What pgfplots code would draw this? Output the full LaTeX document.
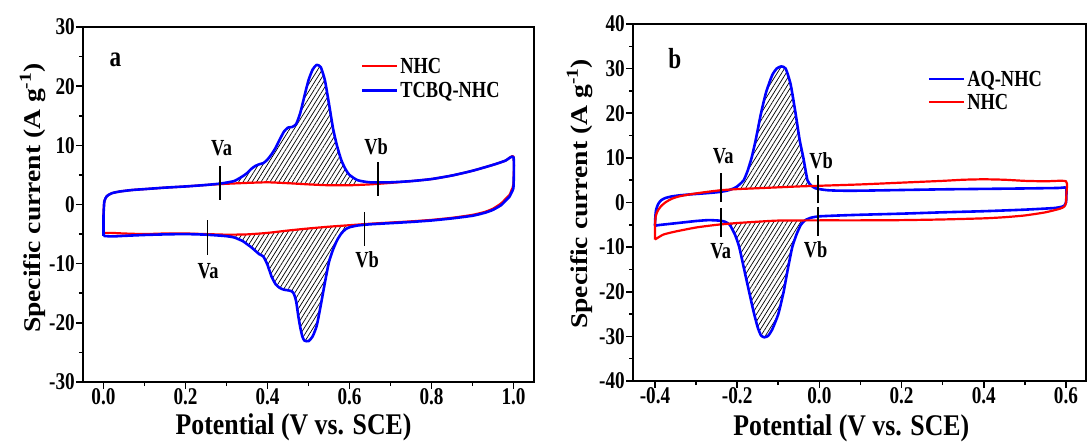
\documentclass[border=0pt]{standalone}
\usepackage{pgfplots}
\pgfplotsset{compat=1.18}
\usetikzlibrary{patterns.meta}
\usepackage{fontspec}
\setmainfont{Liberation Serif}
\newfontfamily\fA[FakeStretch=0.8]{Liberation Serif}
\newfontfamily\fB[FakeStretch=0.86]{Liberation Serif}
\newfontfamily\fV[FakeStretch=1.15]{Liberation Serif}
\newcommand\tickfont{\fA\bfseries\fontsize{24pt}{24pt}\selectfont}
\newcommand\legfont{\fA\bfseries\fontsize{23pt}{23pt}\selectfont}
\newcommand\vfont{\fA\bfseries\fontsize{23pt}{23pt}\selectfont}
\newcommand\panelfont{\fA\bfseries\fontsize{29pt}{29pt}\selectfont}
\newcommand\xlabfont{\fB\bfseries\fontsize{30pt}{30pt}\selectfont}
\newcommand\ylabfont{\fV\bfseries\fontsize{24pt}{24pt}\selectfont}

\pgfplotsset{cvaxis/.style={
  scale only axis, anchor=south west,
  axis line style={line width=1.6pt},
  tick style={black, line width=1.6pt},
  tick align=outside, xtick pos=bottom, ytick pos=left,
  major tick length=7pt, minor tick length=4pt,
  minor x tick num=1, minor y tick num=1,
  tick label style={font=\tickfont},
  xticklabel style={inner sep=0pt, yshift=1pt},
  yticklabel style={inner sep=1pt},
  legend style={draw=none, fill=none, font=\legfont, inner sep=0pt,
     nodes={inner sep=2pt, text depth=0pt}, anchor=north west},
  legend cell align=left,
  legend image code/.code={\draw[##1] (0pt,0pt) -- (35pt,0pt);},
  xlabel style={font=\xlabfont, anchor=base, inner sep=0pt},
  ylabel style={font=\ylabfont, anchor=base},
  hatch/.style={draw=none, forget plot, smooth, tension=0.35,
     pattern={Lines[angle=58,distance=3.8pt,line width=0.7pt]}, pattern color=black},
  vmark/.style={black, line width=1.5pt, forget plot},
  redline/.style={red, line width=2.2pt, smooth, tension=0.35, line join=round},
  blueline/.style={blue, line width=2.6pt, smooth, tension=0.35, line join=round},
}}

\begin{document}
\begin{tikzpicture}
\useasboundingbox (0,0) rectangle (1087pt,442pt);
% ---------------- panel a ----------------
\begin{axis}[cvaxis, at={(83pt,60pt)}, width=451pt, height=355pt,
  xmin=-0.05, xmax=1.05, ymin=-30, ymax=30,
  xtick={0,0.2,0.4,0.6,0.8,1}, xticklabels={0.0,0.2,0.4,0.6,0.8,1.0},
  ytick={-30,-20,-10,0,10,20,30}, yticklabels={-30,-20,-10,0,10,20,30},
  xlabel={Potential (V vs. SCE)},
  ylabel={Specific current (A g\textsuperscript{-1})},
  xlabel style={at={(axis description cs:0.467,-0.1465)}},
  ylabel style={at={(axis description cs:-0.0953,0.518)}},
  legend style={at={(axis description cs:0.6155,0.917)}, row sep=4.8pt}]
% hatched areas
\addplot[hatch] coordinates {(0.32,4.0) (0.34,4.8) (0.35,5.3) (0.36,6.0) (0.37,6.5) (0.38,6.8) (0.39,7.0) (0.40,7.6) (0.41,8.5) (0.42,9.6) (0.43,11.0) (0.44,12.3) (0.45,13.0) (0.46,13.1) (0.47,13.6) (0.48,15.5) (0.49,18.3) (0.50,21.0) (0.51,22.8) (0.52,23.6) (0.53,23.2) (0.54,21.0) (0.55,17.0) (0.56,12.8) (0.57,9.8) (0.58,7.5) (0.59,6.0) (0.60,5.0) (0.62,4.1) (0.62,3.25) (0.60,3.25) (0.55,3.25) (0.50,3.4) (0.45,3.6) (0.40,3.75) (0.35,3.65) (0.32,3.55)};
\addplot[hatch] coordinates {(0.60,-3.85) (0.59,-4.2) (0.58,-4.9) (0.57,-6.0) (0.56,-7.6) (0.55,-9.7) (0.54,-13.2) (0.53,-17.0) (0.52,-20.5) (0.51,-22.3) (0.50,-23.1) (0.49,-23.0) (0.485,-22.3) (0.48,-20.8) (0.475,-18.8) (0.47,-16.4) (0.465,-15.2) (0.46,-14.7) (0.45,-14.5) (0.44,-14.4) (0.43,-14.1) (0.42,-13.5) (0.41,-12.2) (0.40,-10.2) (0.39,-8.8) (0.38,-8.4) (0.37,-7.8) (0.36,-7.2) (0.35,-6.7) (0.34,-6.2) (0.32,-5.6) (0.32,-5.1) (0.35,-5.05) (0.40,-4.8) (0.45,-4.4) (0.50,-4.05) (0.55,-3.75) (0.60,-3.5)};
% NHC
\addplot[redline] coordinates {(0.0,-4.8) (0.0,-2.0) (0.002,0.5) (0.008,1.4) (0.02,1.9) (0.04,2.2) (0.07,2.45) (0.10,2.6) (0.15,2.85) (0.20,3.05) (0.25,3.3) (0.30,3.5) (0.35,3.65) (0.40,3.75) (0.45,3.6) (0.50,3.4) (0.55,3.25) (0.60,3.25) (0.65,3.4) (0.70,3.65) (0.75,3.95) (0.80,4.3) (0.85,4.9) (0.90,5.7) (0.95,6.7) (0.98,7.4) (1.0,8.1) (1.0,3.5) (0.995,2.4) (0.99,1.6) (0.98,0.9) (0.97,0.2) (0.95,-0.7) (0.93,-1.25) (0.90,-1.75) (0.85,-2.25) (0.80,-2.6) (0.75,-2.85) (0.70,-3.05) (0.65,-3.25) (0.60,-3.5) (0.55,-3.75) (0.50,-4.05) (0.45,-4.4) (0.40,-4.8) (0.35,-5.05) (0.30,-5.1) (0.25,-5.0) (0.20,-4.9) (0.15,-4.9) (0.10,-5.0) (0.05,-4.9) (0.02,-4.8) (0.0,-4.8)};
\addlegendentry{NHC}
% TCBQ-NHC
\addplot[blueline] coordinates {(0.0,-5.3) (0.0,-2.0) (0.002,0.5) (0.008,1.4) (0.02,1.9) (0.04,2.2) (0.07,2.45) (0.10,2.6) (0.15,2.85) (0.20,3.05) (0.25,3.3) (0.28,3.5) (0.30,3.7) (0.32,4.0) (0.34,4.8) (0.35,5.3) (0.36,6.0) (0.37,6.5) (0.38,6.8) (0.39,7.0) (0.40,7.6) (0.41,8.5) (0.42,9.6) (0.43,11.0) (0.44,12.3) (0.45,13.0) (0.46,13.1) (0.47,13.6) (0.48,15.5) (0.49,18.3) (0.50,21.0) (0.51,22.8) (0.52,23.6) (0.53,23.2) (0.54,21.0) (0.55,17.0) (0.56,12.8) (0.57,9.8) (0.58,7.5) (0.59,6.0) (0.60,5.0) (0.62,4.1) (0.65,3.75) (0.70,3.75) (0.75,3.95) (0.80,4.3) (0.85,4.9) (0.90,5.7) (0.95,6.7) (0.98,7.4) (1.0,8.0) (1.0,3.0) (0.995,2.0) (0.99,1.3) (0.98,0.6) (0.97,-0.1) (0.95,-0.9) (0.93,-1.4) (0.90,-1.9) (0.85,-2.35) (0.80,-2.7) (0.75,-2.95) (0.70,-3.15) (0.65,-3.35) (0.62,-3.55) (0.60,-3.85) (0.59,-4.2) (0.58,-4.9) (0.57,-6.0) (0.56,-7.6) (0.55,-9.7) (0.54,-13.2) (0.53,-17.0) (0.52,-20.5) (0.51,-22.3) (0.50,-23.1) (0.49,-23.0) (0.485,-22.3) (0.48,-20.8) (0.475,-18.8) (0.47,-16.4) (0.465,-15.2) (0.46,-14.7) (0.45,-14.5) (0.44,-14.4) (0.43,-14.1) (0.42,-13.5) (0.41,-12.2) (0.40,-10.2) (0.39,-8.8) (0.38,-8.4) (0.37,-7.8) (0.36,-7.2) (0.35,-6.7) (0.34,-6.2) (0.32,-5.6) (0.30,-5.35) (0.25,-5.1) (0.20,-5.0) (0.15,-5.05) (0.10,-5.15) (0.05,-5.3) (0.02,-5.4) (0.0,-5.3)};
\addlegendentry{TCBQ-NHC}
% Va / Vb markers
\addplot[vmark] coordinates {(0.284,0.8) (0.284,6.5)};
\addplot[vmark] coordinates {(0.669,1.5) (0.669,7.2)};
\addplot[vmark] coordinates {(0.254,-2.7) (0.254,-8.5)};
\addplot[vmark] coordinates {(0.636,-1.3) (0.636,-7.0)};
\node[font=\vfont, inner sep=0pt] at (axis cs:0.288,9.5) {Va};
\node[font=\vfont, inner sep=0pt] at (axis cs:0.665,9.7) {Vb};
\node[font=\vfont, inner sep=0pt] at (axis cs:0.255,-11.3) {Va};
\node[font=\vfont, inner sep=0pt] at (axis cs:0.643,-9.3) {Vb};
\node[font=\panelfont, inner sep=0pt] at (axis cs:0.029,24.5) {a};
\end{axis}
% ---------------- panel b ----------------
\begin{axis}[cvaxis, at={(633pt,61pt)}, width=453pt, height=357pt,
  xmin=-0.4535, xmax=0.6487, ymin=-40, ymax=40,
  xtick={-0.4,-0.2,0,0.2,0.4,0.6}, xticklabels={-0.4,-0.2,0.0,0.2,0.4,0.6},
  ytick={-40,-30,-20,-10,0,10,20,30,40}, yticklabels={-40,-30,-20,-10,0,10,20,30,40},
  xlabel={Potential (V vs. SCE)},
  ylabel={Specific current (A g\textsuperscript{-1})},
  xlabel style={at={(axis description cs:0.482,-0.1513)}},
  ylabel style={at={(axis description cs:-0.1015,0.524)}},
  legend style={at={(axis description cs:0.650,0.873)}, row sep=3.8pt}]
\addplot[hatch] coordinates {(-0.20,3.6) (-0.19,4.4) (-0.184,5.0) (-0.175,7.0) (-0.165,10.0) (-0.155,14.0) (-0.142,20.0) (-0.13,24.6) (-0.115,28.5) (-0.104,30.0) (-0.093,30.5) (-0.082,30.0) (-0.07,26.5) (-0.058,20.0) (-0.048,14.0) (-0.039,10.0) (-0.029,5.0) (-0.022,3.9) (-0.022,3.65) (-0.05,3.6) (-0.1,3.4) (-0.15,3.2) (-0.2,3.0)};
\addplot[hatch] coordinates {(-0.035,-4.0) (-0.045,-5.0) (-0.055,-7.0) (-0.066,-10.0) (-0.077,-15.0) (-0.087,-20.0) (-0.10,-25.0) (-0.115,-28.5) (-0.125,-29.9) (-0.134,-30.2) (-0.142,-29.8) (-0.15,-28.0) (-0.16,-24.5) (-0.171,-20.0) (-0.183,-15.0) (-0.195,-10.0) (-0.205,-7.3) (-0.215,-5.2) (-0.215,-4.75) (-0.2,-4.6) (-0.15,-4.3) (-0.1,-4.05) (-0.05,-4.0)};
% AQ-NHC
\addplot[blueline] coordinates {(-0.4,-5.2) (-0.399,-3.0) (-0.397,-1.5) (-0.392,-0.3) (-0.385,0.5) (-0.375,1.0) (-0.36,1.35) (-0.34,1.6) (-0.31,1.85) (-0.28,2.05) (-0.26,2.2) (-0.24,2.4) (-0.225,2.65) (-0.21,3.1) (-0.20,3.6) (-0.19,4.4) (-0.184,5.0) (-0.175,7.0) (-0.165,10.0) (-0.155,14.0) (-0.142,20.0) (-0.13,24.6) (-0.115,28.5) (-0.104,30.0) (-0.093,30.5) (-0.082,30.0) (-0.07,26.5) (-0.058,20.0) (-0.048,14.0) (-0.039,10.0) (-0.029,5.0) (-0.02,3.8) (-0.01,3.2) (0.0,3.0) (0.02,2.75) (0.05,2.65) (0.1,2.65) (0.2,2.8) (0.3,2.95) (0.4,3.05) (0.5,3.15) (0.58,3.25) (0.6,3.3) (0.601,1.5) (0.6,0.0) (0.597,-0.6) (0.59,-0.95) (0.57,-1.25) (0.5,-1.6) (0.4,-1.95) (0.3,-2.2) (0.2,-2.5) (0.1,-2.75) (0.05,-2.9) (0.0,-3.1) (-0.02,-3.4) (-0.035,-4.0) (-0.045,-5.0) (-0.055,-7.0) (-0.066,-10.0) (-0.077,-15.0) (-0.087,-20.0) (-0.10,-25.0) (-0.115,-28.5) (-0.125,-29.9) (-0.134,-30.2) (-0.142,-29.8) (-0.15,-28.0) (-0.16,-24.5) (-0.171,-20.0) (-0.183,-15.0) (-0.195,-10.0) (-0.205,-7.3) (-0.218,-5.0) (-0.23,-4.3) (-0.245,-4.05) (-0.27,-3.95) (-0.30,-4.15) (-0.33,-4.45) (-0.36,-4.75) (-0.39,-5.05) (-0.4,-5.2)};
\addlegendentry{AQ-NHC}
% NHC
\addplot[redline] coordinates {(-0.4,-8.3) (-0.4,-5.0) (-0.398,-3.0) (-0.393,-1.8) (-0.385,-0.8) (-0.375,0.0) (-0.36,0.8) (-0.34,1.4) (-0.31,1.9) (-0.28,2.3) (-0.24,2.75) (-0.2,3.0) (-0.15,3.2) (-0.1,3.4) (-0.05,3.6) (0.0,3.75) (0.1,4.05) (0.2,4.45) (0.3,4.85) (0.35,5.1) (0.4,5.2) (0.45,5.1) (0.5,4.85) (0.55,4.75) (0.6,4.75) (0.601,2.0) (0.6,0.0) (0.596,-0.9) (0.585,-1.4) (0.55,-2.2) (0.5,-2.9) (0.45,-3.3) (0.4,-3.55) (0.3,-3.8) (0.2,-3.95) (0.1,-4.0) (0.0,-4.0) (-0.1,-4.05) (-0.15,-4.3) (-0.2,-4.6) (-0.25,-5.0) (-0.3,-5.6) (-0.35,-6.5) (-0.38,-7.2) (-0.4,-8.3)};
\addlegendentry{NHC}
\addplot[vmark] coordinates {(-0.239,0.1) (-0.239,6.7)};
\addplot[vmark] coordinates {(-0.003,-0.2) (-0.003,6.1)};
\addplot[vmark] coordinates {(-0.240,-1.2) (-0.240,-7.7)};
\addplot[vmark] coordinates {(-0.003,-1.0) (-0.003,-7.6)};
\node[font=\vfont, inner sep=0pt] at (axis cs:-0.234,10.4) {Va};
\node[font=\vfont, inner sep=0pt] at (axis cs:0.004,9.4) {Vb};
\node[font=\vfont, inner sep=0pt] at (axis cs:-0.24,-10.9) {Va};
\node[font=\vfont, inner sep=0pt] at (axis cs:-0.009,-10.6) {Vb};
\node[font=\panelfont, inner sep=0pt] at (axis cs:-0.352,32.3) {b};
\end{axis}
\end{tikzpicture}
\end{document}
